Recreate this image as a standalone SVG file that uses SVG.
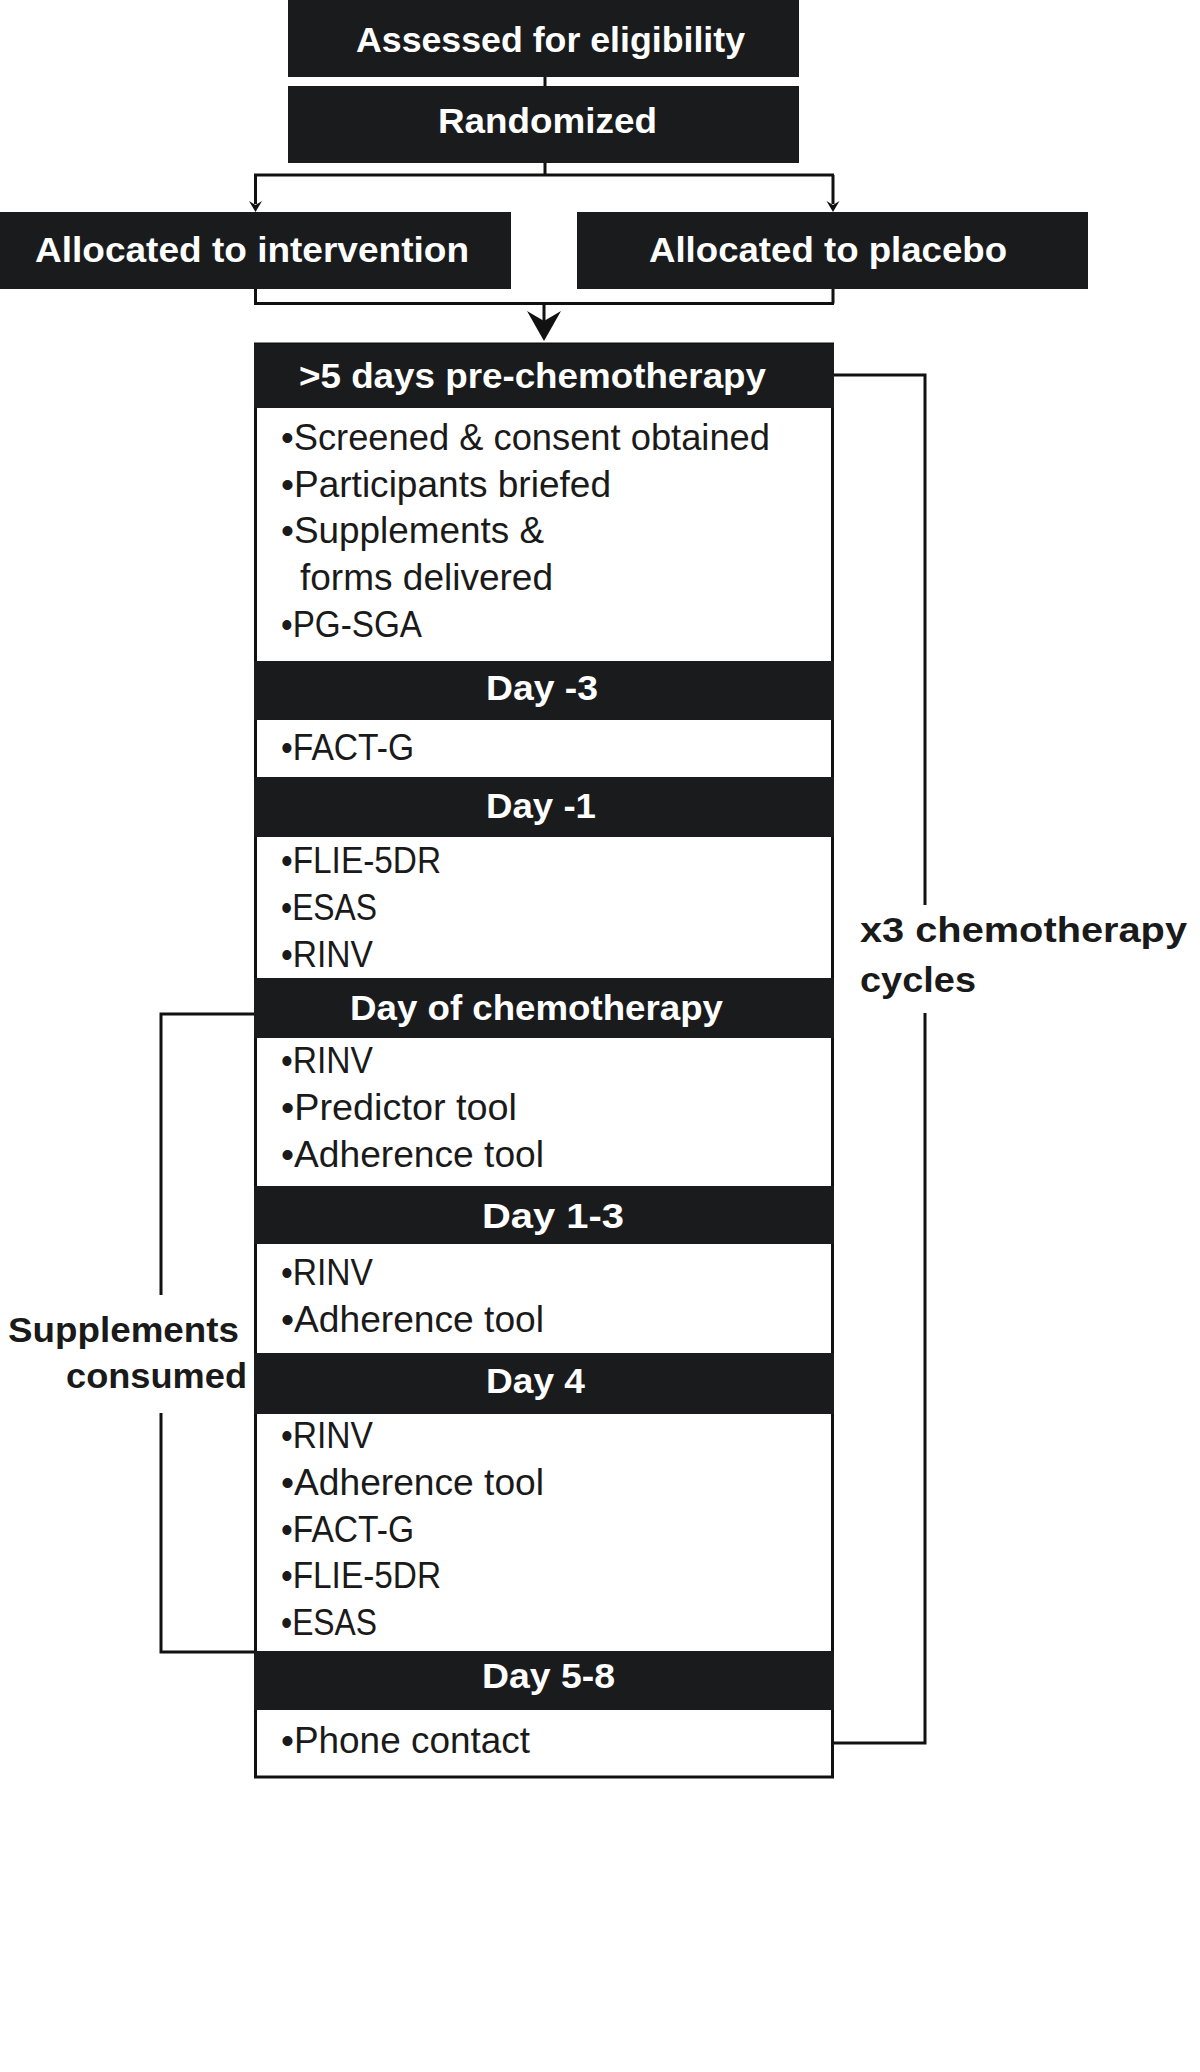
<svg xmlns="http://www.w3.org/2000/svg" width="1200" height="2072" viewBox="0 0 1200 2072">
<style>
.hdr{fill:#1a1b1d}
.ht{font-family:"Liberation Sans",Arial,sans-serif;font-weight:bold;font-size:35px;fill:#ffffff}
.bt{font-family:"Liberation Sans",Arial,sans-serif;font-size:36px;fill:#1a1a1a}
.lt{font-family:"Liberation Sans",Arial,sans-serif;font-weight:bold;font-size:35px;fill:#1a1a1a}
.ln{fill:none;stroke:#111;stroke-width:3}
.ah{fill:#111}
</style>
<rect width="1200" height="2072" fill="#ffffff"/>
<g id="connectors">
<path class="ln" d="M545,77 V86"/>
<path class="ln" d="M545,163 V175 M254,175 H834 M255.5,175 V204 M833,175 V204"/>
<path class="ah" d="M249,201 L255.5,205 L262,201 L255.5,212 Z"/>
<path class="ah" d="M826.5,201 L833,205 L839.5,201 L833,212 Z"/>
<path class="ln" d="M255.5,289 V303.5 M833,289 V303.5 M254,303.5 H834 M544,303.5 V322"/>
<path class="ah" d="M527,311 L544,321 L561,311 L544,341 Z"/>
<path class="ln" d="M833,375 H925 V905 M925,1013 V1743 H833"/>
<path class="ln" d="M255,1014 H161 V1295 M161,1413 V1652 H255"/>
</g>
<g id="assessed">
<rect class="hdr" x="288" y="0" width="511" height="77"/>
<text class="ht" x="356" y="52" textLength="389" lengthAdjust="spacingAndGlyphs">Assessed for eligibility</text>
</g>
<g id="randomized">
<rect class="hdr" x="288" y="86" width="511" height="77"/>
<text class="ht" x="438" y="133" textLength="219" lengthAdjust="spacingAndGlyphs">Randomized</text>
</g>
<g id="intervention">
<rect class="hdr" x="0" y="212" width="511" height="77"/>
<text class="ht" x="35" y="262" textLength="434" lengthAdjust="spacingAndGlyphs">Allocated to intervention</text>
</g>
<g id="placebo">
<rect class="hdr" x="577" y="212" width="511" height="77"/>
<text class="ht" x="649" y="262" textLength="358" lengthAdjust="spacingAndGlyphs">Allocated to placebo</text>
</g>
<g id="schedule">
<rect x="255.5" y="344" width="577" height="1433" fill="#ffffff" stroke="#111" stroke-width="3"/>
<rect class="hdr" x="254" y="344" width="580" height="64"/>
<text class="ht" x="299" y="388" textLength="467" lengthAdjust="spacingAndGlyphs">&gt;5 days pre-chemotherapy</text>
<text class="bt" x="281" y="450" textLength="489" lengthAdjust="spacingAndGlyphs">•Screened &amp; consent obtained</text>
<text class="bt" x="281" y="497" textLength="330" lengthAdjust="spacingAndGlyphs">•Participants briefed</text>
<text class="bt" x="281" y="543" textLength="263" lengthAdjust="spacingAndGlyphs">•Supplements &amp;</text>
<text class="bt" x="300" y="590" textLength="253" lengthAdjust="spacingAndGlyphs">forms delivered</text>
<text class="bt" x="281" y="637" textLength="141" lengthAdjust="spacingAndGlyphs">•PG-SGA</text>
<rect class="hdr" x="254" y="661" width="580" height="59"/>
<text class="ht" x="486" y="700" textLength="112" lengthAdjust="spacingAndGlyphs">Day -3</text>
<text class="bt" x="281" y="760" textLength="133" lengthAdjust="spacingAndGlyphs">•FACT-G</text>
<rect class="hdr" x="254" y="777" width="580" height="60"/>
<text class="ht" x="486" y="818" textLength="110" lengthAdjust="spacingAndGlyphs">Day -1</text>
<text class="bt" x="281" y="873" textLength="160" lengthAdjust="spacingAndGlyphs">•FLIE-5DR</text>
<text class="bt" x="281" y="920" textLength="96" lengthAdjust="spacingAndGlyphs">•ESAS</text>
<text class="bt" x="281" y="967" textLength="92" lengthAdjust="spacingAndGlyphs">•RINV</text>
<rect class="hdr" x="254" y="978" width="580" height="60"/>
<text class="ht" x="350" y="1020" textLength="373" lengthAdjust="spacingAndGlyphs">Day of chemotherapy</text>
<text class="bt" x="281" y="1073" textLength="92" lengthAdjust="spacingAndGlyphs">•RINV</text>
<text class="bt" x="281" y="1120" textLength="236" lengthAdjust="spacingAndGlyphs">•Predictor tool</text>
<text class="bt" x="281" y="1167" textLength="263" lengthAdjust="spacingAndGlyphs">•Adherence tool</text>
<rect class="hdr" x="254" y="1186" width="580" height="58"/>
<text class="ht" x="482" y="1228" textLength="142" lengthAdjust="spacingAndGlyphs">Day 1-3</text>
<text class="bt" x="281" y="1285" textLength="92" lengthAdjust="spacingAndGlyphs">•RINV</text>
<text class="bt" x="281" y="1332" textLength="263" lengthAdjust="spacingAndGlyphs">•Adherence tool</text>
<rect class="hdr" x="254" y="1353" width="580" height="61"/>
<text class="ht" x="486" y="1393" textLength="99" lengthAdjust="spacingAndGlyphs">Day 4</text>
<text class="bt" x="281" y="1448" textLength="92" lengthAdjust="spacingAndGlyphs">•RINV</text>
<text class="bt" x="281" y="1495" textLength="263" lengthAdjust="spacingAndGlyphs">•Adherence tool</text>
<text class="bt" x="281" y="1542" textLength="133" lengthAdjust="spacingAndGlyphs">•FACT-G</text>
<text class="bt" x="281" y="1588" textLength="160" lengthAdjust="spacingAndGlyphs">•FLIE-5DR</text>
<text class="bt" x="281" y="1635" textLength="96" lengthAdjust="spacingAndGlyphs">•ESAS</text>
<rect class="hdr" x="254" y="1651" width="580" height="59"/>
<text class="ht" x="482" y="1688" textLength="133" lengthAdjust="spacingAndGlyphs">Day 5-8</text>
<text class="bt" x="281" y="1753" textLength="249" lengthAdjust="spacingAndGlyphs">•Phone contact</text>
</g>
<g id="cycles-label">
<text class="lt" x="860" y="942" textLength="327" lengthAdjust="spacingAndGlyphs">x3 chemotherapy</text>
<text class="lt" x="860" y="992" textLength="116" lengthAdjust="spacingAndGlyphs">cycles</text>
</g>
<g id="supplements-label">
<text class="lt" x="8" y="1342" textLength="231" lengthAdjust="spacingAndGlyphs">Supplements</text>
<text class="lt" x="66" y="1388" textLength="181" lengthAdjust="spacingAndGlyphs">consumed</text>
</g>
</svg>
